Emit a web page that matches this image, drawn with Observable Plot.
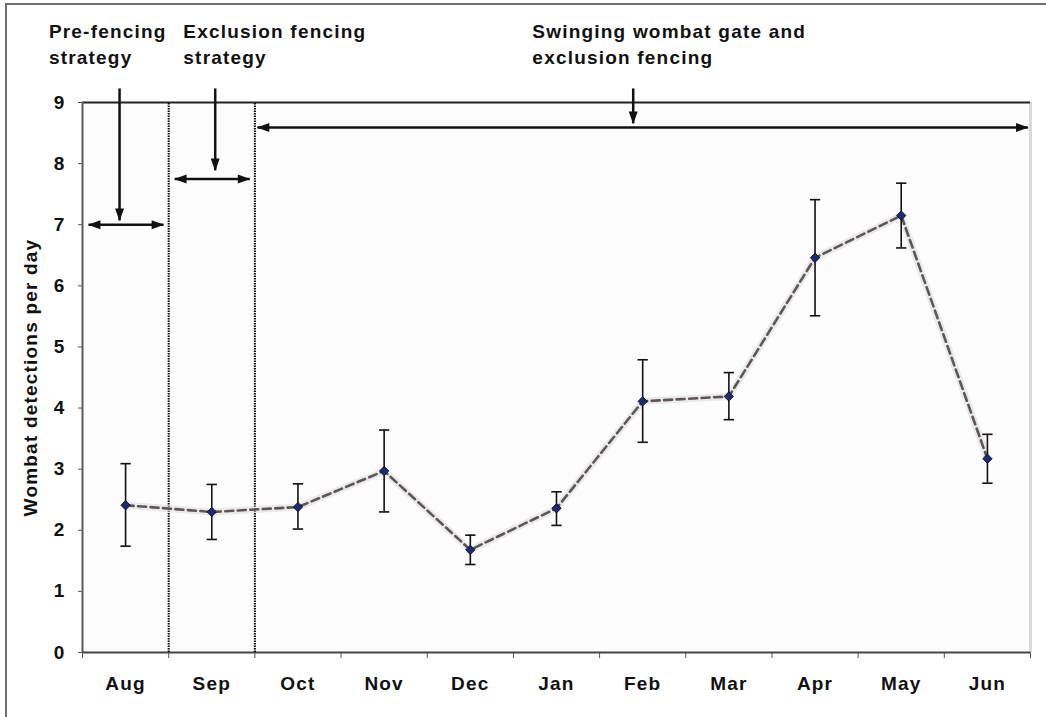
<!DOCTYPE html>
<html>
<head>
<meta charset="utf-8">
<script src="https://cdn.jsdelivr.net/npm/d3@7"></script>
<script src="https://cdn.jsdelivr.net/npm/@observablehq/plot@0.6"></script>
<style>
  html, body { margin: 0; padding: 0; background: #fff; }
  #wrap { position: relative; width: 1046px; height: 717px; overflow: hidden; }
  #border { position: absolute; left: 5px; top: 3px; width: 1100px; height: 800px;
            border-left: 2px solid #6e6e6e; border-top: 2px solid #6e6e6e; pointer-events: none; }
  svg text { font-family: "Liberation Sans", Arial, sans-serif; font-weight: bold; letter-spacing: 1.2px; }
</style>
</head>
<body>
<div id="wrap"><div id="border"></div></div>
<script>
// ---- data ----
const months = ["Aug","Sep","Oct","Nov","Dec","Jan","Feb","Mar","Apr","May","Jun"];
const means  = [2.41, 2.30, 2.38, 2.97, 1.68, 2.36, 4.11, 4.19, 6.46, 7.15, 3.17];
const lows   = [1.74, 1.85, 2.02, 2.30, 1.44, 2.08, 3.44, 3.81, 5.51, 6.62, 2.77];
const highs  = [3.09, 2.75, 2.76, 3.64, 1.92, 2.63, 4.79, 4.58, 7.41, 7.68, 3.57];
const yTicks = [0,1,2,3,4,5,6,7,8,9];
const phaseBoundaries = [1, 2];
const phaseLabels = [
  {x: -0.39, y: 10.37, text: "Pre-fencing\nstrategy"},
  {x: 1.17,  y: 10.37, text: "Exclusion fencing\nstrategy"},
  {x: 5.22,  y: 10.37, text: "Swinging wombat gate and\nexclusion fencing"}
];
const downArrows = [
  {x: 0.43, y1: 9.23, y2: 7.07},
  {x: 1.54, y1: 9.23, y2: 7.89},
  {x: 6.39, y1: 9.23, y2: 8.66}
];
const spanArrows = [
  {x1: 0.07, x2: 0.94, y: 7.0},
  {x1: 1.07, x2: 1.94, y: 7.75},
  {x1: 2.03, x2: 10.97, y: 8.59}
];

const data = months.map((m, i) => ({month: m, pos: i + 0.5, mean: means[i], lo: lows[i], hi: highs[i]}));
const capHalf = 0.06;

const chart = Plot.plot({
  width: 1046,
  height: 717,
  marginLeft: 82,
  marginRight: 16,
  marginTop: 102,
  marginBottom: 65,
  style: {background: "transparent", overflow: "visible"},
  x: {type: "linear", domain: [0, 11], axis: null},
  y: {domain: [0, 9], axis: null},
  marks: [
    Plot.frame({fill: "#fcfcfc", stroke: null}),
    // axes
    Plot.axisY({ticks: yTicks, tickSize: 4, tickPadding: 13, fontSize: 19, fontWeight: "bold",
                stroke: "#555", fill: "#111", label: null}),
    Plot.axisX({ticks: d3.range(12), tickSize: 6, tickFormat: () => "", stroke: "#555", label: null}),
    Plot.axisX({ticks: data.map(d => d.pos), tickSize: 0, tickPadding: 24,
                tickFormat: (v) => months[Math.floor(v)], fontSize: 19, fontWeight: "bold",
                fill: "#111", label: null}),
    Plot.text(["Wombat detections per day"], {frameAnchor: "left", dx: -52, rotate: -90,
                textAnchor: "middle", fontSize: 19, fontWeight: "bold", fill: "#111"}),
    // plot area edges
    Plot.ruleX([11], {stroke: "#d9d9d9", strokeWidth: 3}),
    Plot.ruleY([9], {stroke: "#222", strokeWidth: 2}),
    Plot.ruleX([0], {stroke: "#5a5a5a", strokeWidth: 2}),
    Plot.ruleY([0], {stroke: "#444", strokeWidth: 2}),
    // phase boundaries
    Plot.ruleX(phaseBoundaries, {y1: 0, y2: 9, stroke: "#000", strokeWidth: 2, strokeDasharray: "1.5,1"}),
    // line with faint shadow
    Plot.line(data, {x: "pos", y: "mean", stroke: "#d8d8d8", strokeWidth: 7, strokeOpacity: 0.5}),
    Plot.line(data, {x: "pos", y: "mean", stroke: "#5e5656", strokeWidth: 2.6, strokeDasharray: "8,4.5"}),
    // error bars
    Plot.ruleX(data, {x: "pos", y1: "lo", y2: "hi", stroke: "#111", strokeWidth: 1.6}),
    Plot.link(data, {x1: d => d.pos - capHalf, x2: d => d.pos + capHalf, y1: "hi", y2: "hi", stroke: "#111", strokeWidth: 1.6}),
    Plot.link(data, {x1: d => d.pos - capHalf, x2: d => d.pos + capHalf, y1: "lo", y2: "lo", stroke: "#111", strokeWidth: 1.6}),
    // points
    Plot.dot(data, {x: "pos", y: "mean", symbol: "diamond2", r: 4.2, fill: "#1c2a78", stroke: "#111", strokeWidth: 0.9}),
    // annotations
    Plot.link(downArrows, {x1: "x", x2: "x", y1: "y1", y2: "y2", stroke: "#111", strokeWidth: 2.5, markerEnd: "arrow"}),
    Plot.link(spanArrows, {x1: "x1", x2: "x2", y1: "y", y2: "y", stroke: "#111", strokeWidth: 2.5, markerStart: "arrow", markerEnd: "arrow"}),
    Plot.text(phaseLabels, {x: "x", y: "y", text: "text", textAnchor: "start", lineAnchor: "top",
                lineHeight: 1.4, fontSize: 19, fontWeight: "bold", fill: "#111"})
  ]
});

// turn the open chevron markers into filled arrowheads
chart.querySelectorAll("marker").forEach(mk => {
  const col = mk.getAttribute("stroke") || "#111";
  mk.setAttribute("viewBox", "-10 -5 11 10");
  mk.setAttribute("markerWidth", 5.5);
  mk.setAttribute("markerHeight", 5.5);
  mk.setAttribute("orient", "auto-start-reverse");
  mk.setAttribute("fill", col);
  mk.setAttribute("stroke", "none");
  const p = mk.querySelector("path");
  if (p) p.setAttribute("d", "M-9.5,-3.6L0.5,0L-9.5,3.6Z");
});

document.getElementById("wrap").appendChild(chart);
</script>
</body>
</html>
